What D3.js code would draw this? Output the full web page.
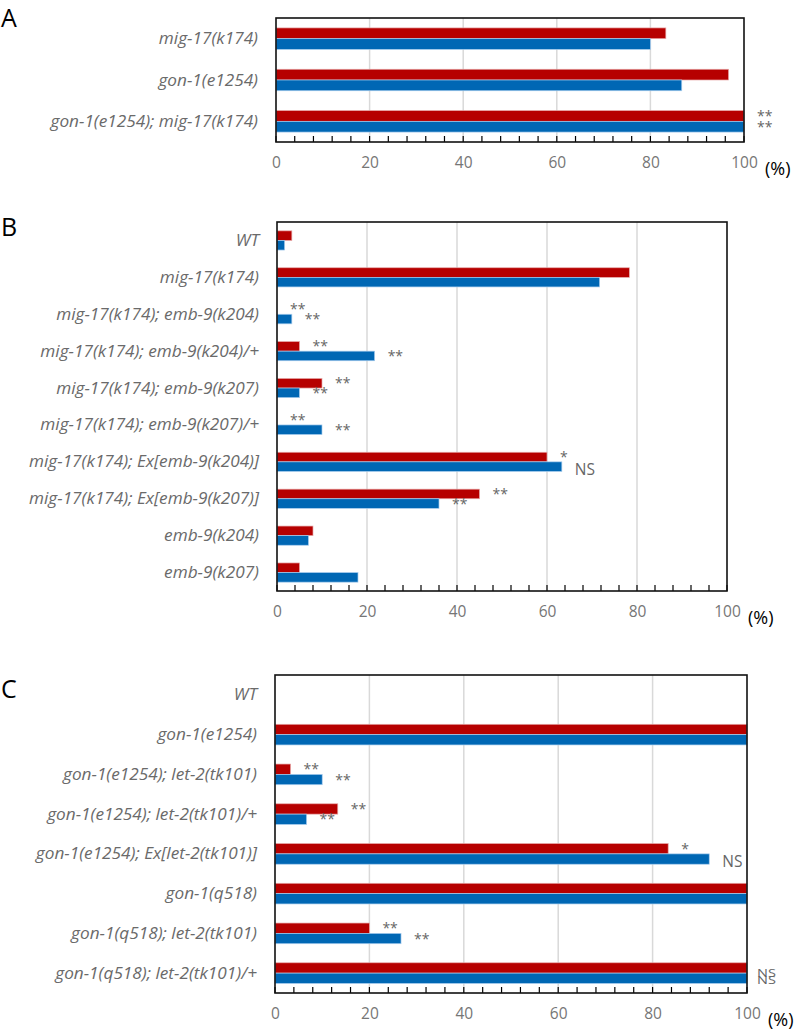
<!DOCTYPE html>
<html><head><meta charset="utf-8">
<script src="https://cdn.jsdelivr.net/npm/d3@7/dist/d3.min.js"></script>
<style>body{margin:0;background:#fff}svg{display:block}</style>
</head><body>
<svg id="chart" width="795" height="1031"></svg>
<script>
// ---------- DATA ----------
const tickValues = [0, 20, 40, 60, 80, 100];
const unitLabel = "(%)";

const catsA = ["mig-17(k174)", "gon-1(e1254)", "gon-1(e1254); mig-17(k174)"];
const redA  = [83.3, 96.7, 100];
const blueA = [80, 86.7, 100];
const redSigA  = ["", "", "**"];
const blueSigA = ["", "", "**"];

const catsB = ["WT", "mig-17(k174)", "mig-17(k174); emb-9(k204)", "mig-17(k174); emb-9(k204)/+",
  "mig-17(k174); emb-9(k207)", "mig-17(k174); emb-9(k207)/+", "mig-17(k174); Ex[emb-9(k204)]",
  "mig-17(k174); Ex[emb-9(k207)]", "emb-9(k204)", "emb-9(k207)"];
const redB  = [3.3, 78.3, 0, 5, 10, 0, 60, 45, 8, 5];
const blueB = [1.7, 71.7, 3.3, 21.7, 5, 10, 63.3, 36, 7, 18];
const redSigB  = ["", "", "**", "**", "**", "**", "*", "**", "", ""];
const blueSigB = ["", "", "**", "**", "**", "**", "NS", "**", "", ""];

const catsC = ["WT", "gon-1(e1254)", "gon-1(e1254); let-2(tk101)", "gon-1(e1254); let-2(tk101)/+",
  "gon-1(e1254); Ex[let-2(tk101)]", "gon-1(q518)", "gon-1(q518); let-2(tk101)", "gon-1(q518); let-2(tk101)/+"];
const redC  = [0, 100, 3.3, 13.3, 83.3, 100, 20, 100];
const blueC = [0, 100, 10, 6.7, 92, 100, 26.7, 100];
const redSigC  = ["", "", "**", "**", "*", "", "**", "NS"];
const blueSigC = ["", "", "**", "**", "NS", "", "**", "NS"];

// ---------- LAYOUT ----------
const panels = [
  {letter:"A", cats:catsA, red:redA, blue:blueA, rs:redSigA, bs:blueSigA, x0:276, x1:744, y0:18, y1:142, ly:27},
  {letter:"B", cats:catsB, red:redB, blue:blueB, rs:redSigB, bs:blueSigB, x0:277, x1:727, y0:222, y1:591, ly:236},
  {letter:"C", cats:catsC, red:redC, blue:blueC, rs:redSigC, bs:blueSigC, x0:275, x1:747, y0:675, y1:993, ly:698}
];
const RED = "#B60000", BLUE = "#0067B4";
const svg = d3.select("#chart");
const FONT = "'Open Sans', 'Noto Sans', sans-serif";

panels.forEach(p => {
  const g = svg.append("g");
  const x = d3.scaleLinear().domain([0, 100]).range([p.x0, p.x1]);
  const y = d3.scaleBand().domain(p.cats).range([p.y0, p.y1]).padding(0);
  const bw = y.bandwidth();
  const bh = bw * 0.26;

  // gridlines
  g.selectAll(".grid").data(tickValues.slice(1, -1)).join("line")
    .attr("x1", d => x(d)).attr("x2", d => x(d))
    .attr("y1", p.y0).attr("y2", p.y1)
    .attr("stroke", "#d9d9d9").attr("stroke-width", 1.5);

  const rows = p.cats.map((c, i) => ({c, r:p.red[i], b:p.blue[i], rs:p.rs[i], bs:p.bs[i]}));

  // bars
  g.selectAll(".red").data(rows.filter(d => d.r > 0)).join("rect")
    .attr("x", x(0)).attr("y", d => y(d.c) + bw/2 - bh)
    .attr("width", d => x(d.r) - x(0)).attr("height", bh)
    .attr("fill", RED).attr("stroke", "#e7a9a9").attr("stroke-width", 0.7);
  g.selectAll(".blue").data(rows.filter(d => d.b > 0)).join("rect")
    .attr("x", x(0)).attr("y", d => y(d.c) + bw/2)
    .attr("width", d => x(d.b) - x(0)).attr("height", bh)
    .attr("fill", BLUE).attr("stroke", "#a9cdee").attr("stroke-width", 0.7);

  // minor ticks (inward from bottom axis)
  const minor = d3.range(0, 101, 4);
  g.selectAll(".tick").data(minor).join("line")
    .attr("x1", d => x(d)).attr("x2", d => x(d))
    .attr("y1", p.y1).attr("y2", p.y1 - 6)
    .attr("stroke", "#000").attr("stroke-width", 1.2);

  // frame
  g.append("rect").attr("x", p.x0).attr("y", p.y0)
    .attr("width", p.x1 - p.x0).attr("height", p.y1 - p.y0)
    .attr("fill", "none").attr("stroke", "#111").attr("stroke-width", 1.6);

  // x axis labels
  const ax = g.append("g").attr("transform", `translate(0,${p.y1})`)
    .call(d3.axisBottom(x).tickValues(tickValues).tickSize(0).tickPadding(15));
  ax.select(".domain").remove();
  ax.selectAll("text").attr("font-family", FONT).attr("font-size", 15.5).attr("fill", "#767676");
  g.append("text").attr("x", p.x1 + 21).attr("y", p.y1 + 33)
    .attr("font-family", FONT).attr("font-size", 18).attr("fill", "#000").text(unitLabel);

  // category labels
  const ay = g.append("g").attr("transform", `translate(${p.x0 - 18},0)`)
    .call(d3.axisLeft(y).tickSize(0).tickPadding(0));
  ay.select(".domain").remove();
  ay.selectAll("text").attr("font-family", FONT).attr("font-size", 17.2)
    .attr("font-style", "italic").attr("fill", "#6a6a6a");

  // significance marks
  const stacked = d => d.rs === "NS" && d.bs === "NS";
  g.selectAll(".sr").data(rows.filter(d => d.rs && !stacked(d))).join("text")
    .attr("x", d => x(d.r) + 13)
    .attr("y", d => y(d.c) + bw/2 - bh/2 + 5)
    .attr("font-family", FONT).attr("fill", "#666").attr("font-size", 14)
    .text(d => d.rs);
  g.selectAll(".sb").data(rows.filter(d => d.bs && !stacked(d))).join("text")
    .attr("x", d => x(d.b) + 13)
    .attr("y", d => y(d.c) + bw/2 + (d.bs === "NS" ? bh/2 + 8 : bh/2 + 5))
    .attr("font-family", FONT).attr("fill", "#666")
    .attr("font-size", d => d.bs === "NS" ? 15.5 : 14)
    .text(d => d.bs);
  // compressed, stacked NS labels (both series at 100%)
  const st = rows.filter(stacked);
  g.selectAll(".nsr").data(st).join("text")
    .attr("transform", d => `translate(${x(d.r) + 10},${y(d.c) + bw/2 + 3.5}) scale(1,0.8)`)
    .attr("font-family", FONT).attr("fill", "#666").attr("font-size", 14.5)
    .text(d => d.rs);
  g.selectAll(".nsb").data(st).join("text")
    .attr("transform", d => `translate(${x(d.b) + 10},${y(d.c) + bw/2 + 10.5}) scale(1,0.8)`)
    .attr("font-family", FONT).attr("fill", "#666").attr("font-size", 14.5)
    .text(d => d.bs);

  // panel letter
  svg.append("text").attr("x", 1).attr("y", p.ly)
    .attr("font-family", FONT).attr("font-size", 25).attr("fill", "#000").text(p.letter);
});
</script>
</body></html>
